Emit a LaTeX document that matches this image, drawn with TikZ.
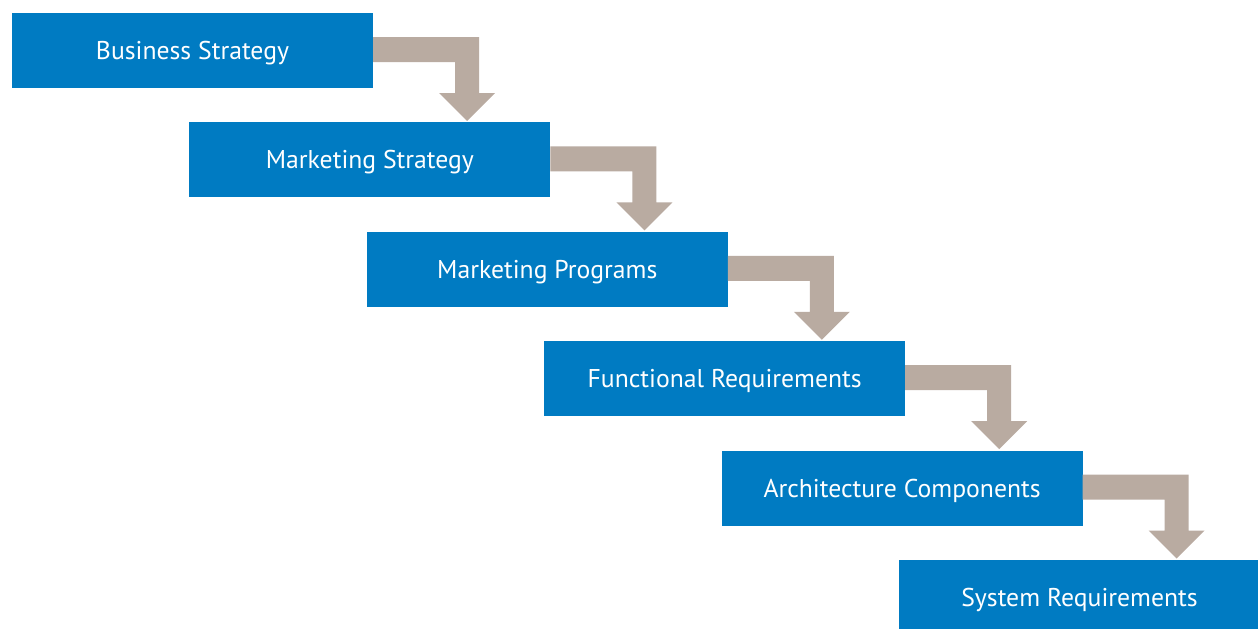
\documentclass[tikz,border=0pt]{standalone}
\usepackage{fontspec}
\setmainfont{PT Sans}
\usetikzlibrary{calc}
\definecolor{stepblue}{RGB}{0,123,194}
\definecolor{stepgrey}{RGB}{185,171,161}
\tikzset{
  stagebox/.style={fill=stepblue, draw=none, anchor=north west, inner sep=0pt, outer sep=0pt,
    minimum width=361pt, minimum height=75pt, text=white, text height=18pt, text depth=0pt,
    font=\fontsize{25.7}{30}\selectfont},
  elbow/.style={fill=stepgrey, draw=none}
}
% bent arrow leaving the right side of one stage and pointing down to the next
\newcommand{\elbowarrow}[1]{%
  \fill[elbow]
    ($(#1.north east)+(0,24)$) -- ($(#1.north east)+(106,24)$)
    -- ($(#1.south east)+(106,5)$) -- ($(#1.south east)+(122,5)$)
    -- ($(#1.south east)+(94,33)$)
    -- ($(#1.south east)+(66,5)$) -- ($(#1.south east)+(82,5)$)
    -- ($(#1.north east)+(82,49)$) -- ($(#1.north east)+(0,49)$) -- cycle;}
\begin{document}
\begin{tikzpicture}[x=1pt,y=-1pt]
  \useasboundingbox (0,0) rectangle (1258,629);
  \clip (0,0) rectangle (1258,629);
  \node[stagebox] (b1) at (12,13)      {Business Strategy};
  \node[stagebox] (b2) at (189.4,122.4) {Marketing Strategy};
  \node[stagebox] (b3) at (366.8,231.8) {Marketing Programs};
  \node[stagebox] (b4) at (544.2,341.2) {Functional Requirements};
  \node[stagebox] (b5) at (721.6,450.6) {Architecture Components};
  \node[stagebox] (b6) at (899,560)     {System Requirements};
  \elbowarrow{b1}
  \elbowarrow{b2}
  \elbowarrow{b3}
  \elbowarrow{b4}
  \elbowarrow{b5}
\end{tikzpicture}
\end{document}
